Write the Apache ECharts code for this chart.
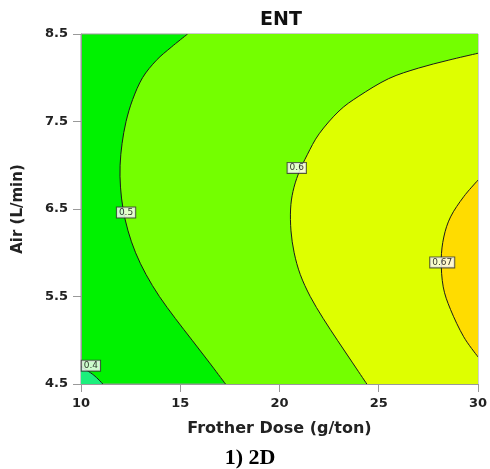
<!DOCTYPE html>
<html>
<head>
<meta charset="utf-8">
<script src="https://cdn.jsdelivr.net/npm/echarts@6/dist/echarts.min.js"></script>
<style>
  html, body { margin: 0; padding: 0; background: #fff; }
  #chart { width: 490px; height: 469px; }
</style>
</head>
<body>
<div id="chart"></div>
<script>
// Axis ranges and ticks
const xRange = [10, 30];
const yRange = [4.5, 8.5];
const xTickStep = 5;
const yTickStep = 1;

// Contour levels of the ENT response
const levels = [0.4, 0.5, 0.6, 0.67];

// Contour lines as [Frother Dose, Air] points
const contour04 = [[10, 4.7], [10.65, 4.6], [11.1, 4.5]];
const contour05 = [[15.37, 8.5], [14.55, 8.35], [13.8, 8.2], [13.1, 8.0], [12.6, 7.75], [12.27, 7.5],
                   [12.07, 7.25], [11.97, 7.0], [11.99, 6.75], [12.12, 6.5], [12.37, 6.25], [12.75, 6.0],
                   [13.28, 5.75], [13.95, 5.5], [14.75, 5.25], [15.6, 5.0], [16.45, 4.75], [17.28, 4.5]];
const contour06 = [[30, 8.28], [28.5, 8.2], [27, 8.11], [25.5, 7.99], [24, 7.79], [23, 7.62], [22, 7.36],
                   [21.4, 7.12], [20.95, 6.9], [20.68, 6.7], [20.56, 6.5], [20.58, 6.25], [20.74, 6.0],
                   [21.05, 5.75], [21.55, 5.5], [22.2, 5.25], [22.92, 5.0], [23.66, 4.75], [24.4, 4.5]];
const contour067 = [[30, 6.83], [29.28, 6.64], [28.62, 6.41], [28.28, 6.18], [28.15, 5.92], [28.25, 5.61],
                    [28.62, 5.35], [29.28, 5.04], [30, 4.81]];

// Label anchor on each contour line
const labelPoints = [[10.5, 4.71], [12.27, 6.46], [20.87, 6.97], [28.2, 5.89]];

// Band fill colours
const colorBelow04 = '#1CEF7C';
const color04to05 = '#00F200';
const color05to06 = '#74FF00';
const color06to067 = '#DEFF00';
const colorAbove067 = '#FFDC00';

const contours = [contour04, contour05, contour06, contour067];
// Closing corners used to turn each contour into a filled band
const closures = [
  [[10, 4.5]],
  [[30, 4.5], [30, 8.5]],
  [[30, 4.5]],
  []
];
const bandColors = [colorBelow04, color05to06, color06to067, colorAbove067];

// Catmull-Rom spline through pixel points, as SVG path commands
function splinePath(p) {
  let d = 'M' + p[0][0] + ' ' + p[0][1];
  for (let i = 0; i < p.length - 1; i++) {
    const p0 = p[i - 1] || p[i];
    const p1 = p[i];
    const p2 = p[i + 1];
    const p3 = p[i + 2] || p2;
    const c1x = p1[0] + (p2[0] - p0[0]) / 6, c1y = p1[1] + (p2[1] - p0[1]) / 6;
    const c2x = p2[0] - (p3[0] - p1[0]) / 6, c2y = p2[1] - (p3[1] - p1[1]) / 6;
    d += ' C' + c1x + ' ' + c1y + ' ' + c2x + ' ' + c2y + ' ' + p2[0] + ' ' + p2[1];
  }
  return d;
}

const chart = echarts.init(document.getElementById('chart'), null, { renderer: 'canvas' });

const axisFont = 'DejaVu Sans';

chart.setOption({
  animation: false,
  graphic: [
    {
      type: 'text',
      x: 281, y: 20,
      style: { text: 'ENT', font: 'bold 19px "DejaVu Sans"', fill: '#111',
               textAlign: 'center', textVerticalAlign: 'middle' }
    },
    {
      type: 'text',
      x: 250, y: 458,
      style: { text: '1) 2D', font: 'bold 22px "Liberation Serif"', fill: '#000',
               textAlign: 'center', textVerticalAlign: 'middle' }
    }
  ],
  grid: {
    left: 81, top: 34, width: 400, height: 350,
    show: true,
    backgroundColor: color04to05,
    borderColor: '#999',
    borderWidth: 1
  },
  xAxis: {
    type: 'value',
    min: xRange[0], max: xRange[1], interval: xTickStep,
    name: 'Frother Dose (g/ton)',
    nameLocation: 'middle',
    nameGap: 37,
    nameTextStyle: { fontFamily: axisFont, fontWeight: 'bold', fontSize: 16, color: '#222' },
    axisLine: { lineStyle: { color: '#999' } },
    axisTick: { length: 8, lineStyle: { color: '#999' } },
    axisLabel: { margin: 13, fontFamily: axisFont, fontWeight: 'bold', fontSize: 13, color: '#222' },
    splitLine: { show: false }
  },
  yAxis: {
    type: 'value',
    min: yRange[0], max: yRange[1], interval: yTickStep,
    name: 'Air (L/min)',
    nameLocation: 'middle',
    nameGap: 55,
    nameTextStyle: { fontFamily: axisFont, fontWeight: 'bold', fontSize: 15, color: '#222' },
    axisLine: { show: true, lineStyle: { color: '#999' } },
    axisTick: { show: true, length: 8, lineStyle: { color: '#999' } },
    axisLabel: { margin: 13, fontFamily: axisFont, fontWeight: 'bold', fontSize: 13, color: '#222',
                 formatter: v => v.toFixed(1) },
    splitLine: { show: false }
  },
  series: [
    {
      // filled bands bounded by each contour line, drawn bottom-up
      type: 'custom',
      coordinateSystem: 'cartesian2d',
      silent: true,
      clip: true,
      data: contours.map((c, i) => [i]),
      encode: { x: -1, y: -1 },
      renderItem: function (params, api) {
        const i = params.dataIndex;
        const px = contours[i].map(p => api.coord(p));
        let d = splinePath(px);
        closures[i].forEach(p => { const q = api.coord(p); d += ' L' + q[0] + ' ' + q[1]; });
        d += ' Z';
        return {
          type: 'group',
          children: [
            { type: 'path', shape: { pathData: d }, style: { fill: bandColors[i], stroke: null } },
            { type: 'path', shape: { pathData: splinePath(px) },
              style: { fill: null, stroke: '#1a1a1a', lineWidth: 1 } }
          ]
        };
      }
    },
    {
      // level labels sitting on the contour lines
      type: 'scatter',
      silent: true,
      symbolSize: 0,
      data: labelPoints.map((p, i) => [p[0], p[1], levels[i]]),
      label: {
        show: true,
        position: 'inside',
        formatter: p => String(p.value[2]),
        fontFamily: axisFont,
        fontSize: 9,
        lineHeight: 9,
        color: '#000',
        backgroundColor: '#fff',
        borderColor: '#333',
        borderWidth: 1,
        padding: [1, 2, 0, 2]
      },
      z: 5
    }
  ]
});
</script>
</body>
</html>
